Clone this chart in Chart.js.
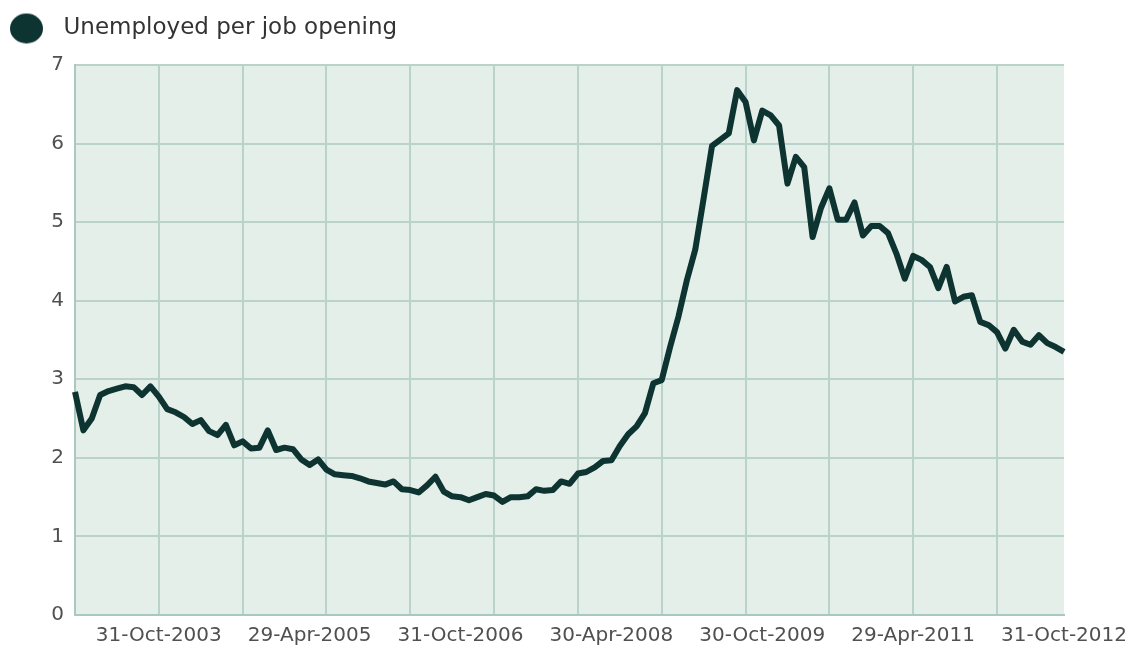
<!DOCTYPE html>
<html>
<head>
<meta charset="utf-8">
<script src="https://cdn.jsdelivr.net/npm/chart.js@4"></script>
<style>
  html, body { margin: 0; padding: 0; background: #fff; }
  #wrap { width: 1136px; height: 653px; position: relative; }
</style>
</head>
<body>
<div id="wrap"><canvas id="chart"></canvas></div>
<script>
// monthly, Dec 2002 .. Oct 2012
const months = [];
for (let y = 2002, m = 11; y < 2012 || (y === 2012 && m <= 9); m++) {
    if (m > 11) { m = 0; y++; }
    months.push(y + '-' + String(m + 1).padStart(2, '0'));
}

const unemployedPerOpening = [
    2.84, 2.35, 2.50, 2.80, 2.85, 2.88, 2.91, 2.90, 2.80, 2.91,
    2.78, 2.62, 2.58, 2.52, 2.43, 2.48, 2.34, 2.29, 2.42, 2.16,
    2.21, 2.12, 2.13, 2.35, 2.10, 2.13, 2.11, 1.98, 1.91, 1.98,
    1.85, 1.79, 1.78, 1.77, 1.74, 1.70, 1.68, 1.66, 1.70, 1.60,
    1.59, 1.56, 1.65, 1.76, 1.57, 1.51, 1.50, 1.46, 1.50, 1.54,
    1.52, 1.44, 1.50, 1.50, 1.51, 1.60, 1.58, 1.59, 1.70, 1.67,
    1.80, 1.82, 1.88, 1.96, 1.97, 2.15, 2.30, 2.40, 2.57, 2.95,
    2.99, 3.41, 3.80, 4.26, 4.65, 5.30, 5.97, 6.05, 6.13, 6.68,
    6.53, 6.04, 6.42, 6.36, 6.23, 5.49, 5.83, 5.70, 4.81, 5.18,
    5.43, 5.03, 5.03, 5.25, 4.83, 4.95, 4.95, 4.86, 4.60, 4.28,
    4.57, 4.52, 4.43, 4.16, 4.43, 3.99, 4.05, 4.07, 3.73, 3.69,
    3.60, 3.39, 3.63, 3.48, 3.44, 3.56, 3.46, 3.41, 3.35
];

// date labels on the x axis and the month index they sit on
const tickLabels = ['31-Oct-2003', '29-Apr-2005', '31-Oct-2006', '30-Apr-2008', '30-Oct-2009', '29-Apr-2011', '31-Oct-2012'];
const tickIndex = [10, 28, 46, 64, 82, 100, 118];
// vertical grid every 10 months
const gridIndex = [0, 10, 20, 30, 40, 50, 60, 70, 80, 90, 100, 110];

const lineColor = '#0e3432';
const gridColor = '#b9d2cb';
const plotBg = '#e5efea';

// legend dot: circle at the left of a wider box so the text sits further right
const dot = document.createElement('canvas');
dot.width = 42;
dot.height = 32;
{
    const c = dot.getContext('2d');
    c.fillStyle = lineColor;
    c.beginPath();
    c.ellipse(16.5, 16, 16.5, 15, 0, 0, Math.PI * 2);
    c.fill();
}

const plotBackground = {
    id: 'plotBackground',
    beforeInit(chart) {
        const fit = chart.legend.fit;
        chart.legend.fit = function () {
            fit.call(this);
            this.height += 15;
        };
    },
    beforeDraw(chart) {
        const { ctx, chartArea: a } = chart;
        ctx.save();
        ctx.fillStyle = plotBg;
        ctx.fillRect(a.left, a.top, a.right - a.left, a.bottom - a.top);
        ctx.restore();
    }
};

const allTicks = [...new Set([...gridIndex, ...tickIndex])].sort((a, b) => a - b);

new Chart(document.getElementById('chart'), {
    type: 'line',
    data: {
        labels: months,
        datasets: [{
            label: 'Unemployed per job opening',
            data: unemployedPerOpening,
            borderColor: lineColor,
            backgroundColor: lineColor,
            borderWidth: 6,
            pointRadius: 0,
            tension: 0,
            borderJoinStyle: 'round',
            pointStyle: dot
        }]
    },
    options: {
        responsive: true,
        maintainAspectRatio: false,
        animation: false,
        layout: { padding: { top: 7, left: 0, right: 0, bottom: 0 } },
        plugins: {
            legend: {
                position: 'top',
                align: 'start',
                labels: {
                    usePointStyle: true,
                    pointStyleWidth: 42,
                    color: '#333',
                    font: { family: 'DejaVu Sans', size: 23 },
                    padding: 10
                }
            },
            tooltip: { enabled: false }
        },
        scales: {
            x: {
                type: 'category',
                offset: false,
                afterBuildTicks: axis => { axis.ticks = allTicks.map(v => ({ value: v })); },
                afterFit: axis => { axis.height = 38; },
                grid: {
                    color: c => (c.tick && gridIndex.includes(c.tick.value)) ? gridColor : 'rgba(0,0,0,0)',
                    lineWidth: 2,
                    drawTicks: false
                },
                border: { color: '#a9c8c0', width: 2 },
                ticks: {
                    autoSkip: false,
                    maxRotation: 0,
                    padding: 9,
                    color: '#505050',
                    font: { family: 'DejaVu Sans', size: 20 },
                    callback: v => {
                        const k = tickIndex.indexOf(v);
                        return k >= 0 ? tickLabels[k] : '';
                    }
                }
            },
            y: {
                min: 0,
                max: 7,
                afterFit: axis => { axis.width = 75; },
                grid: { color: gridColor, lineWidth: 2, drawTicks: false },
                border: { color: '#a9c8c0', width: 2 },
                ticks: {
                    stepSize: 1,
                    padding: 11,
                    color: '#505050',
                    font: { family: 'DejaVu Sans', size: 20 }
                }
            }
        }
    },
    plugins: [plotBackground]
});
</script>
</body>
</html>
